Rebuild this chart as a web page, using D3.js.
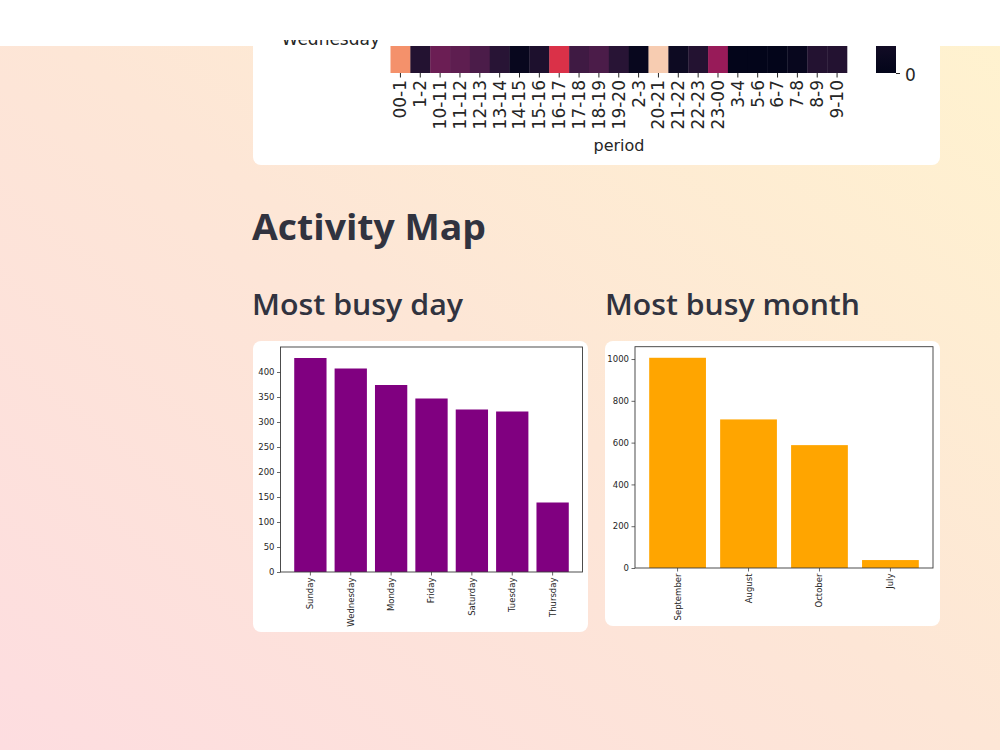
<!DOCTYPE html>
<meta charset="utf-8">
<style>
    body { margin: 0; }
    svg { display: block; }
    .tick text { font-family: "DejaVu Sans", sans-serif; fill: #262626; }
    .heading { font-family: "Open Sans", "Noto Sans", sans-serif; fill: #31333f; }
</style>
<body>
<script src="https://d3js.org/d3.v7.min.js"></script>
<script>
    // heatmap row (Wednesday) : messages by hour period
    var periods = ["00-1", "1-2", "10-11", "11-12", "12-13", "13-14", "14-15", "15-16", "16-17", "17-18", "18-19",
        "19-20", "2-3", "20-21", "21-22", "22-23", "23-00", "3-4", "5-6", "6-7", "7-8", "8-9", "9-10"];
    var periodCounts = [48, 6, 18, 16, 13, 7, 1, 5, 36, 11, 13, 7, 1, 56, 2, 6, 25, 0, 0, 0, 1, 6, 6];
    var heatMax = 60;

    // most busy day
    var days = ["Sunday", "Wednesday", "Monday", "Friday", "Saturday", "Tuesday", "Thursday"];
    var dayCounts = [428, 407, 374, 347, 325, 321, 139];
    var dayTicks = [0, 50, 100, 150, 200, 250, 300, 350, 400];

    // most busy month
    var months = ["September", "August", "October", "July"];
    var monthCounts = [1006, 711, 588, 38];
    var monthTicks = [0, 200, 400, 600, 800, 1000];

    // seaborn "rocket" colormap stops
    var rocket = ["#03051a", "#221331", "#451c47", "#6a1f56", "#921c5b", "#b91657",
        "#dd2c45", "#f06043", "#f5936a", "#f6bc99", "#faebdd"];

    var svg = d3.select("body").append("svg").attr("width", 1000).attr("height", 750);
    var defs = svg.append("defs");

    var bg = defs.append("linearGradient").attr("id", "bg")
        .attr("x1", 0).attr("y1", 1).attr("x2", 1).attr("y2", 0);
    bg.append("stop").attr("offset", "0%").attr("stop-color", "#fddde0");
    bg.append("stop").attr("offset", "50%").attr("stop-color", "#fde6d6");
    bg.append("stop").attr("offset", "100%").attr("stop-color", "#fff3cf");
    svg.append("rect").attr("width", 1000).attr("height", 750).attr("fill", "url(#bg)");

    // ---- top card with heatmap ----
    svg.append("rect").attr("x", 253).attr("y", -20).attr("width", 687).attr("height", 185)
        .attr("rx", 8).attr("fill", "#fff");

    var color = d3.scaleSequential(d3.interpolateRgbBasis(rocket)).domain([0, heatMax]);
    var hx = d3.scaleBand().domain(periods).range([390.5, 847]);
    var rowTop = 10, rowBottom = 73;

    svg.append("g").selectAll("rect").data(periods).join("rect")
        .attr("x", d => hx(d)).attr("y", rowTop)
        .attr("width", hx.bandwidth() + 0.3).attr("height", rowBottom - rowTop)
        .attr("fill", (d, i) => color(periodCounts[i]));

    var hax = svg.append("g").attr("transform", "translate(0," + rowBottom + ")")
        .call(d3.axisBottom(hx).tickSize(4.5).tickSizeOuter(0));
    hax.select(".domain").remove();
    hax.selectAll("line").attr("stroke", "#262626");
    hax.selectAll("text")
        .attr("font-size", 17)
        .attr("transform", "translate(0,7) rotate(-90)")
        .attr("x", 0).attr("y", 0).attr("dy", "0.35em")
        .attr("text-anchor", "end");

    svg.append("text").attr("x", 619).attr("y", 151).attr("text-anchor", "middle")
        .attr("font-family", "DejaVu Sans").attr("font-size", 16).attr("fill", "#262626").text("period");

    // colorbar
    var cb = defs.append("linearGradient").attr("id", "cb")
        .attr("x1", 0).attr("y1", 1).attr("x2", 0).attr("y2", 0);
    rocket.forEach(function(c, i) {
        cb.append("stop").attr("offset", (i / (rocket.length - 1) * 100) + "%").attr("stop-color", c);
    });
    var cbScale = d3.scaleLinear().domain([0, heatMax]).range([73, -500]);
    svg.append("rect").attr("x", 876).attr("y", cbScale(heatMax)).attr("width", 20)
        .attr("height", cbScale(0) - cbScale(heatMax)).attr("fill", "url(#cb)");
    var cax = svg.append("g").attr("transform", "translate(896,0)")
        .call(d3.axisRight(cbScale).tickValues([0]).tickSize(4).tickPadding(5));
    cax.select(".domain").remove();
    cax.selectAll("line").attr("stroke", "#262626");
    cax.selectAll("text").attr("font-size", 17).attr("dy", "0.45em");

    // header bar of the page
    svg.append("rect").attr("width", 1000).attr("height", 46).attr("fill", "#fff");

    // day label peeking under the header
    defs.append("clipPath").attr("id", "peek").append("rect")
        .attr("x", 0).attr("y", 40).attr("width", 1000).attr("height", 20);
    svg.append("text").attr("clip-path", "url(#peek)")
        .attr("x", 380).attr("y", 45).attr("text-anchor", "end")
        .attr("font-family", "DejaVu Sans").attr("font-size", 17).attr("fill", "#262626")
        .text("Wednesday");

    // ---- headings ----
    function heading(txt, x, y, size, weight, width) {
        svg.append("text").attr("class", "heading")
            .attr("x", x).attr("y", y)
            .attr("font-size", size).attr("font-weight", weight)
            .attr("textLength", width).attr("lengthAdjust", "spacingAndGlyphs")
            .text(txt);
    }
    heading("Activity Map", 252, 240, 35, 700, 234);
    heading("Most busy day", 252, 315, 28, 600, 211);
    heading("Most busy month", 605, 315, 28, 600, 255);

    // ---- bar chart cards ----
    function barChart(card, box, cats, vals, ticks, ymax, outer, fill) {
        svg.append("rect").attr("x", card.x).attr("y", card.y).attr("width", card.w).attr("height", card.h)
            .attr("rx", 8).attr("fill", "#fff");

        var x = d3.scaleBand().domain(cats).range([box.x0, box.x1])
            .paddingInner(0.2).paddingOuter(outer);
        var y = d3.scaleLinear().domain([0, ymax]).range([box.y1, box.y0]);

        svg.append("g").selectAll("rect").data(cats).join("rect")
            .attr("x", d => x(d)).attr("width", x.bandwidth())
            .attr("y", (d, i) => y(vals[i])).attr("height", (d, i) => y(0) - y(vals[i]))
            .attr("fill", fill);

        var ya = svg.append("g").attr("transform", "translate(" + box.x0 + ",0)")
            .call(d3.axisLeft(y).tickValues(ticks).tickFormat(d3.format("d")).tickSize(3.5).tickPadding(2.5));
        ya.select(".domain").remove();
        ya.selectAll("line").attr("stroke", "#262626").attr("stroke-width", 0.7);
        ya.selectAll("text").attr("font-size", 8.5);

        var xa = svg.append("g").attr("transform", "translate(0," + box.y1 + ")")
            .call(d3.axisBottom(x).tickSize(3.5).tickSizeOuter(0));
        xa.select(".domain").remove();
        xa.selectAll("line").attr("stroke", "#262626").attr("stroke-width", 0.7);
        xa.selectAll("text")
            .attr("font-size", 8.5)
            .attr("transform", "translate(0,5.5) rotate(-90)")
            .attr("x", 0).attr("y", 0).attr("dy", "0.35em")
            .attr("text-anchor", "end");

        svg.append("rect").attr("x", box.x0).attr("y", box.y0)
            .attr("width", box.x1 - box.x0).attr("height", box.y1 - box.y0)
            .attr("fill", "none").attr("stroke", "#3a3a3a").attr("stroke-width", 0.9);
    }

    barChart({x: 253, y: 341, w: 335, h: 291}, {x0: 280.5, x1: 582.5, y0: 347, y1: 572},
        days, dayCounts, dayTicks, 450, 0.34, "#800080");
    barChart({x: 605, y: 341, w: 335, h: 285}, {x0: 635, x1: 933, y0: 346.7, y1: 568},
        months, monthCounts, monthTicks, 1059, 0.2, "#ffa500");
</script>
</body>
